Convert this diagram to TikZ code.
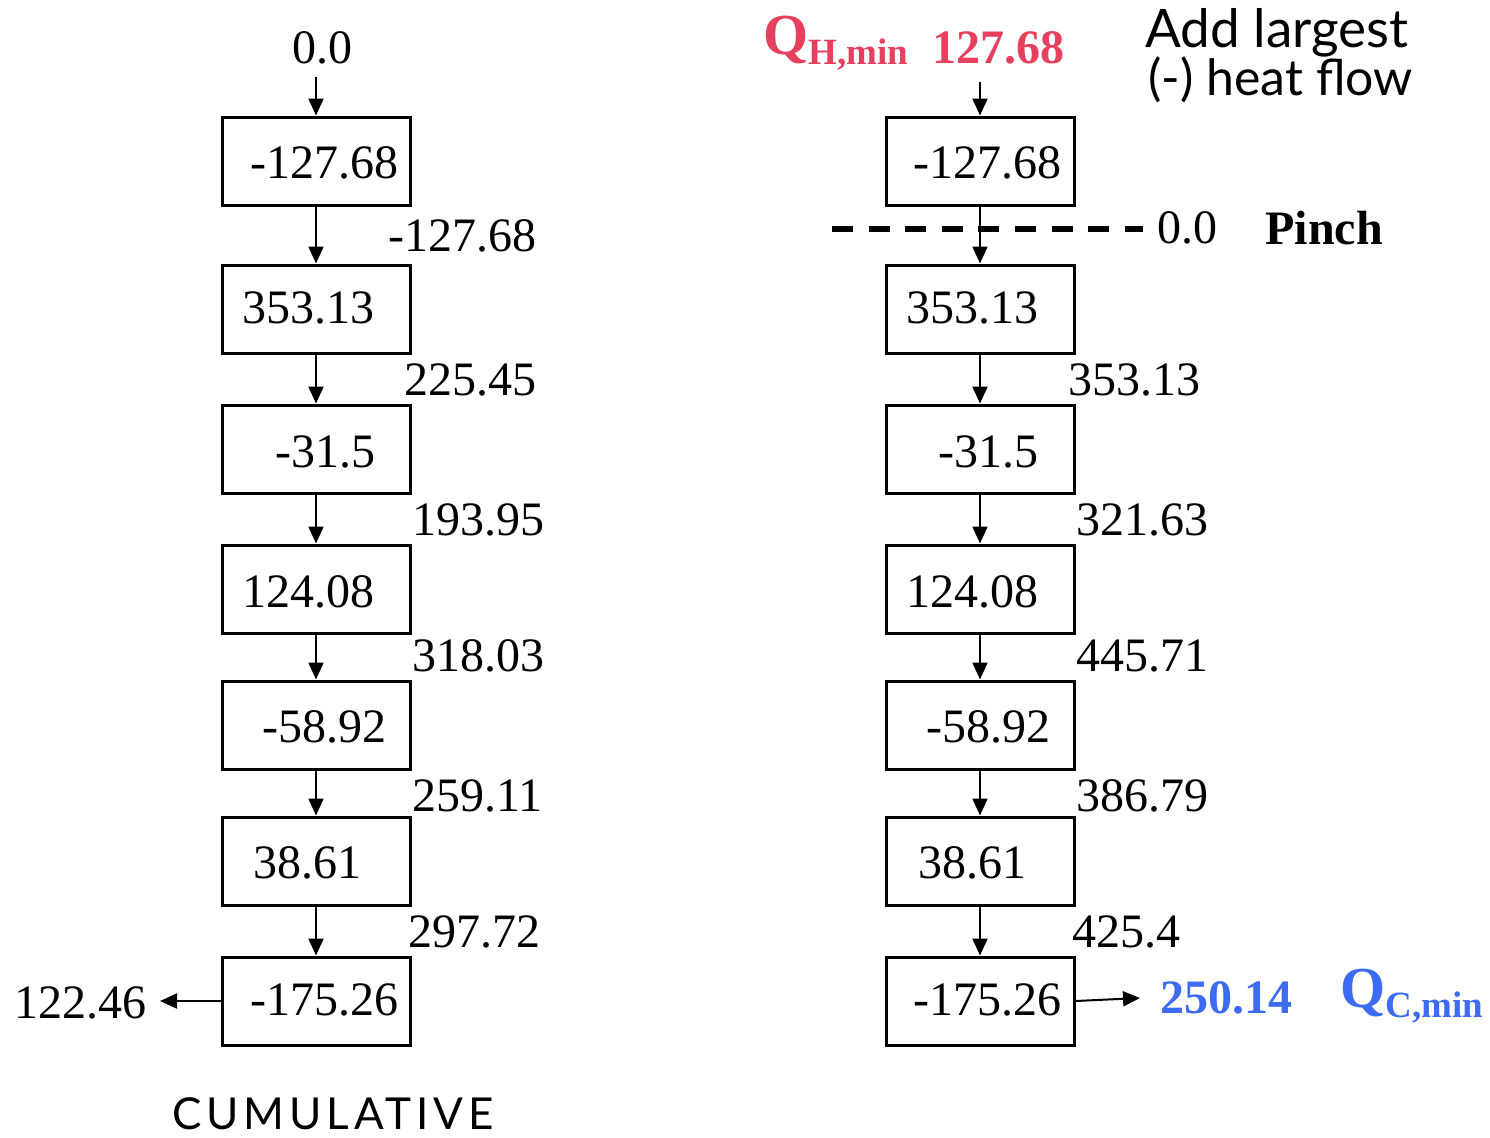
\documentclass[tikz,border=0pt]{standalone}
\usepackage{fontspec}
\setmainfont{Liberation Serif}
\newfontfamily\hand{Lato}
\usetikzlibrary{arrows.meta}
\definecolor{qred}{HTML}{E6405F}
\definecolor{qblue}{HTML}{3D6CF2}
\begin{document}
\begin{tikzpicture}[x=0.5pt,y=-0.5pt,
  font=\fontsize{24}{28}\selectfont,
  box/.style={draw, line width=1.5pt, minimum width=94pt, minimum height=44pt, inner sep=0pt},
  flow/.style={line width=1pt, -{Triangle[length=8.5pt,width=7.5pt]}},
  val/.style={anchor=west, inner sep=0pt},
  handtxt/.style={anchor=west, inner sep=0pt, font=\hand\fontsize{26.5}{30}\selectfont},
  qlab/.style={anchor=west, inner sep=0pt}
]
\useasboundingbox (0,0) rectangle (1490,1137);

% ---------- left column ----------
\node[box] (L1) at (316,161) {};
\node[box] (L2) at (316,309) {};
\node[box] (L3) at (316,449) {};
\node[box] (L4) at (316,589) {};
\node[box] (L5) at (316,725) {};
\node[box] (L6) at (316,861) {};
\node[box] (L7) at (316,1001) {};

\node[val] (L1t) at (250,163) {-127.68};
\node[val] (L2t) at (242,308) {353.13};
\node[val] (L3t) at (275,452) {-31.5};
\node[val] (L4t) at (242,592) {124.08};
\node[val] (L5t) at (262,727) {-58.92};
\node[val] (L6t) at (253,863) {38.61};
\node[val] (L7t) at (250,1000) {-175.26};

\node[val] (L12) at (388,236) {-127.68};
\node[val] (L23) at (404,380) {225.45};
\node[val] (L34) at (412,520) {193.95};
\node[val] (L45) at (412,656) {318.03};
\node[val] (L56) at (412,796) {259.11};
\node[val] (L67) at (408,932) {297.72};

\node (Ltop) at (322,48) {0.0};
\coordinate (Lin) at (316,77);
\draw[flow] (Lin) -- (L1.north);
\draw[flow] (L1.south) -- (L2.north);
\draw[flow] (L2.south) -- (L3.north);
\draw[flow] (L3.south) -- (L4.north);
\draw[flow] (L4.south) -- (L5.north);
\draw[flow] (L5.south) -- (L6.north);
\draw[flow] (L6.south) -- (L7.north);

\coordinate (Lout) at (160,1001);
\draw[flow] (L7.west) -- (Lout);
\node[anchor=east, inner sep=0pt] (Lres) at (147,1003) {122.46};

\node[inner sep=0pt, font=\hand\fontsize{22}{26}\selectfont\addfontfeature{LetterSpace=11}] (cum) at (333,1114) {CUMULATIVE};

% ---------- right column ----------
\node[box] (R1) at (980,161) {};
\node[box] (R2) at (980,309) {};
\node[box] (R3) at (980,449) {};
\node[box] (R4) at (980,589) {};
\node[box] (R5) at (980,725) {};
\node[box] (R6) at (980,861) {};
\node[box] (R7) at (980,1001) {};

\node[val] (R1t) at (913,163) {-127.68};
\node[val] (R2t) at (906,308) {353.13};
\node[val] (R3t) at (938,452) {-31.5};
\node[val] (R4t) at (906,592) {124.08};
\node[val] (R5t) at (926,727) {-58.92};
\node[val] (R6t) at (918,863) {38.61};
\node[val] (R7t) at (913,1000) {-175.26};

\node[val] (R23) at (1068,380) {353.13};
\node[val] (R34) at (1076,520) {321.63};
\node[val] (R45) at (1076,656) {445.71};
\node[val] (R56) at (1076,796) {386.79};
\node[val] (R67) at (1072,932) {425.4};

\coordinate (pA) at (832,229);
\coordinate (pB) at (1143,229);
\draw[line width=3pt, dash pattern=on 10.5pt off 7.8pt] (pA) -- (pB);
\node[val] (R12) at (1157,228) {0.0};
\node[val, font=\bfseries\fontsize{24}{28}\selectfont] (pinch) at (1265,228) {Pinch};

\node[qlab, text=qred] (qh) at (763,43) {\fontsize{29}{32}\selectfont\bfseries Q\raisebox{-0.35ex}{\fontsize{18.5}{20}\selectfont\bfseries H,min}};
\node[val, text=qred, font=\bfseries\fontsize{24}{28}\selectfont] (qhv) at (932,48) {127.68};
\coordinate (Rin) at (980,82);
\draw[flow] (Rin) -- (R1.north);
\draw[flow] (R1.south) -- (R2.north);
\draw[flow] (R2.south) -- (R3.north);
\draw[flow] (R3.south) -- (R4.north);
\draw[flow] (R4.south) -- (R5.north);
\draw[flow] (R5.south) -- (R6.north);
\draw[flow] (R6.south) -- (R7.north);

\node[handtxt] (add1) at (1145,33) {Add largest};
\node[handtxt, font=\hand\fontsize{25}{30}\selectfont] (add2) at (1148,80) {(-) heat flow};

\coordinate (Rout) at (1140,998);
\draw[flow] (R7.east) -- (Rout);
\node[val, text=qblue, font=\bfseries\fontsize{24}{28}\selectfont] (qcv) at (1160,998) {250.14};
\node[qlab, text=qblue] (qc) at (1340,996) {\fontsize{29}{32}\selectfont\bfseries Q\raisebox{-0.35ex}{\fontsize{18.5}{20}\selectfont\bfseries C,min}};
\end{tikzpicture}
\end{document}
